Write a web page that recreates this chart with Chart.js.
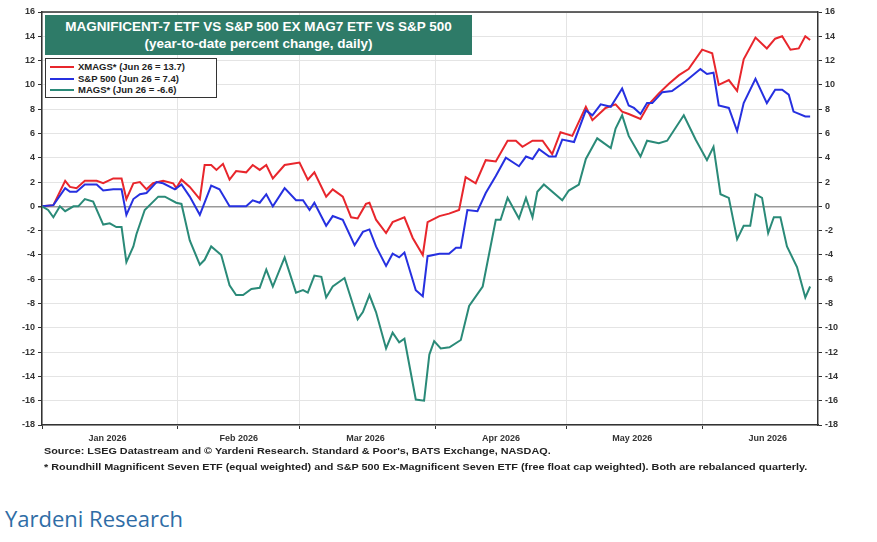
<!DOCTYPE html>
<html>
<head>
<meta charset="utf-8">
<script src="https://cdn.jsdelivr.net/npm/chart.js@4"></script>
<style>
  body { margin: 0; background: #fff; font-family: "Liberation Sans", Arial, sans-serif; }
  #wrap { position: relative; width: 877px; height: 542px; }
  #chart { position: absolute; left: 0; top: 0; }
  #title { position: absolute; left: 45px; top: 15px; width: 427px; height: 40px; background: #2e7b68;
           color: #fff; font-weight: bold; font-size: 13.5px; text-align: center; line-height: 17px; padding-top: 3px; box-sizing: border-box; }
  #legend { position: absolute; left: 45px; top: 58px; width: 172px; height: 40px; border: 1.5px solid #333; background: #fff;
            font-size: 9.5px; font-weight: bold; color: #222; box-sizing: border-box; padding: 2px 0 0 4px; line-height: 11.5px; }
  #legend span.sw { display: inline-block; width: 24px; height: 2px; vertical-align: middle; margin-right: 4px; }
  #notes { position: absolute; left: 44px; top: 443px; font-size: 9.5px; font-weight: bold; color: #222; line-height: 16px;
           transform: scaleX(1.14); transform-origin: left top; white-space: nowrap; }
  #brand { position: absolute; left: 5px; top: 503px; font-size: 22px; color: #2f6da6; font-family: "Open Sans", sans-serif; }
</style>
</head>
<body>
<div id="wrap">
  <canvas id="chart" width="877" height="445"></canvas>
  <div id="title">MAGNIFICENT-7 ETF VS S&amp;P 500 EX MAG7 ETF VS S&amp;P 500<br>(year-to-date percent change, daily)</div>
  <div id="legend">
    <div><span class="sw" style="background:#e8262c"></span>XMAGS* (Jun 26 = 13.7)</div>
    <div><span class="sw" style="background:#2630e0"></span>S&amp;P 500 (Jun 26 = 7.4)</div>
    <div><span class="sw" style="background:#2a8a78"></span>MAGS* (Jun 26 = -6.6)</div>
  </div>
  <div id="notes">Source: LSEG Datastream and © Yardeni Research. Standard &amp; Poor's, BATS Exchange, NASDAQ.<br>* Roundhill Magnificent Seven ETF (equal weighted) and S&amp;P 500 Ex-Magnificent Seven ETF (free float cap weighted). Both are rebalanced quarterly.</div>
  <div id="brand">Yardeni Research</div>
</div>
<script>
// x values are days since Jan 1 2026
const monthStarts = [0, 31, 59, 90, 120, 151];
const monthMids = [15, 45, 74, 105, 135, 166];
const monthLabels = ['Jan 2026', 'Feb 2026', 'Mar 2026', 'Apr 2026', 'May 2026', 'Jun 2026'];
const yTicks = [16, 14, 12, 10, 8, 6, 4, 2, 0, -2, -4, -6, -8, -10, -12, -14, -16, -18];

const xmagsDays = [0, 2.6, 5.3, 6.4, 7.9, 9.8, 12.5, 14.0, 16.3, 18.2, 19.3, 20.9, 22.4, 23.9, 25.4, 27.7, 30.0, 30.7, 31.9, 33.8, 36.1, 37.2, 38.7, 39.9, 41.4, 42.9, 44.4, 46.7, 48.2, 49.8, 51.3, 52.8, 55.5, 58.9, 60.8, 62.3, 65.0, 66.5, 68.8, 70.7, 72.2, 74.1, 74.9, 76.4, 78.7, 80.2, 82.9, 84.8, 87.1,
  88.2, 90.9, 93.1, 95.4, 96.9, 99.2, 101.5, 103.8, 106.5, 108.4, 109.9, 112.2, 114.5, 116.7, 118.6, 121.3, 124.4, 125.9, 128.9, 131.2, 132.7, 134.2, 136.9, 138.8, 141.1, 143.4, 145.7, 147.9, 151.0, 153.3, 154.8, 157.1, 159.0, 160.5, 163.2, 165.8, 167.7, 169.3, 171.2, 173.1, 174.6, 175.7];
const xmagsVals = [0, 0.1, 2.1, 1.6, 1.5, 2.1, 2.1, 1.9, 2.3, 2.3, 0.6, 1.9, 2.0, 1.4, 1.9, 2.1, 1.9, 1.5, 2.2, 1.6, 0.6, 3.4, 3.4, 3.0, 3.5, 2.2, 2.9, 2.8, 3.4, 3.0, 3.4, 2.3, 3.4, 3.6, 2.2, 2.8, 0.8, 1.4, 0.8, -0.9, -1.0, 0.2, 0.3, -1.1, -2.2, -1.3, -0.9, -2.6, -4.0,
  -1.3, -0.8, -0.6, -0.3, 2.4, 1.9, 3.8, 3.7, 5.4, 5.4, 4.9, 5.4, 5.4, 4.3, 6.1, 5.8, 8.2, 7.1, 8.1, 8.4, 7.8, 7.6, 7.2, 8.4, 9.3, 10.1, 10.8, 11.3, 12.9, 12.6, 10.0, 10.4, 9.5, 12.1, 13.9, 13.0, 13.8, 14.0, 12.9, 13.0, 14.0, 13.7];

const spxDays = [0, 2.6, 5.3, 6.4, 7.9, 9.8, 12.5, 14.0, 16.3, 18.2, 19.3, 20.9, 22.4, 23.9, 26.2, 27.7, 30.4, 31.9, 33.8, 36.1, 38.7, 40.6, 42.9, 46.7, 48.2, 49.8, 51.3, 52.8, 55.5, 58.1, 59.7, 61.2, 62.3, 65.0, 66.5, 68.8, 71.5, 73.4, 74.9, 76.4, 78.7, 80.2, 81.7, 82.9, 85.5, 87.1,
  88.2, 90.9, 93.1, 94.7, 95.8, 97.3, 99.6, 101.5, 103.8, 106.1, 109.1, 110.7, 112.2, 113.7, 116.0, 117.5, 119.0, 121.7, 124.4, 125.9, 127.8, 130.1, 132.7, 134.2, 135.4, 136.9, 138.4, 139.6, 141.9, 144.1, 147.2, 150.6, 152.1, 153.6, 154.8, 157.1, 159.0, 160.5, 163.2, 165.8, 167.7, 169.3, 170.8, 171.9, 174.6, 175.7];
const spxVals = [0, 0.1, 1.5, 1.2, 1.2, 1.8, 1.8, 1.3, 1.4, 1.4, -0.7, 0.6, 1.0, 1.1, 2.0, 1.9, 1.4, 1.8, 0.8, -0.7, 1.7, 1.4, 0.0, 0.0, 0.5, 0.3, 1.0, 0.0, 1.5, 0.5, 0.5, -0.3, 0.3, -1.6, -0.8, -1.1, -3.2, -2.1, -1.9, -3.3, -4.9, -3.9, -4.2, -3.8, -6.9, -7.4,
  -4.1, -3.9, -3.9, -3.4, -3.4, -0.3, -0.4, 1.1, 2.5, 4.0, 3.3, 4.1, 3.9, 4.7, 4.1, 4.1, 5.5, 5.3, 7.9, 7.5, 8.4, 8.2, 9.7, 8.3, 8.1, 7.6, 8.5, 8.5, 9.4, 9.5, 10.3, 11.3, 10.9, 11.0, 8.3, 8.1, 6.2, 8.5, 10.5, 8.5, 9.6, 9.6, 9.2, 7.8, 7.4, 7.4];

const magsDays = [0, 1.4, 2.6, 4.1, 5.3, 7.2, 8.3, 9.8, 11.7, 14.0, 15.5, 17.0, 18.2, 19.3, 20.9, 21.6, 23.5, 26.6, 28.1, 30.7, 31.9, 33.8, 36.1, 37.2, 38.7, 41.0, 42.9, 44.4, 46.0, 47.9, 49.8, 51.3, 52.8, 55.5, 58.1, 59.7, 60.8, 62.3, 63.9, 65.0, 66.5, 69.2, 72.2, 73.4, 74.9, 76.4, 78.7, 80.2, 81.7, 82.9, 85.5, 87.4, 88.6, 89.7, 91.2, 93.2,
  95.8, 97.7, 100.8, 103.8, 104.9, 106.5, 109.1, 110.7, 112.2, 113.3, 114.8, 119.0, 120.5, 122.8, 124.4, 127.0, 130.1, 131.2, 132.7, 134.2, 136.9, 138.4, 141.1, 143.0, 146.8, 149.5, 152.1, 153.6, 155.2, 157.1, 159.0, 160.5, 162.0, 163.2, 164.7, 166.1, 167.4, 168.9, 170.4, 172.7, 174.6, 175.7];
const magsVals = [0, -0.3, -0.9, 0, -0.4, 0.0, 0.0, 0.6, 0.4, -1.5, -1.4, -1.7, -1.7, -4.6, -3.3, -2.3, -0.3, 0.8, 0.8, 0.3, 0.2, -2.8, -4.8, -4.4, -3.3, -4.0, -6.5, -7.3, -7.3, -6.8, -6.7, -5.2, -6.6, -4.2, -7.1, -6.9, -7.1, -5.7, -5.8, -7.5, -6.6, -5.9, -9.3, -8.7, -7.3, -8.7, -11.7, -10.4, -11.2, -10.9, -15.9, -16.0, -12.2, -11.1, -11.7, -11.6,
  -11.0, -8.2, -6.6, -1.1, -1.1, 0.7, -1.0, 0.7, -0.9, 1.2, 1.8, 0.5, 1.3, 1.8, 3.9, 5.6, 4.8, 6.4, 7.5, 5.8, 4.1, 5.4, 5.2, 5.4, 7.5, 5.5, 3.8, 4.9, 1.0, 0.7, -2.7, -1.6, -1.6, 1.0, 0.7, -2.2, -0.9, -0.9, -3.3, -5.0, -7.5, -6.6];

const pts = (d, v) => d.map((x, i) => ({ x: x, y: v[i] }));
const tickFont = { family: 'Liberation Sans', size: 9, weight: 'bold' };

new Chart(document.getElementById('chart'), {
  type: 'line',
  data: {
    datasets: [
      { data: pts(magsDays, magsVals), borderColor: '#2a8a78', borderWidth: 2, pointRadius: 0, tension: 0 },
      { data: pts(spxDays, spxVals), borderColor: '#2630e0', borderWidth: 2, pointRadius: 0, tension: 0 },
      { data: pts(xmagsDays, xmagsVals), borderColor: '#e8262c', borderWidth: 2, pointRadius: 0, tension: 0 }
    ]
  },
  options: {
    responsive: false,
    animation: false,
    layout: { padding: { top: 12 } },
    plugins: { legend: { display: false }, tooltip: { enabled: false } },
    scales: {
      x: {
        type: 'linear', min: 0, max: 177.5,
        afterBuildTicks: s => { s.ticks = monthStarts.concat(monthMids).map(v => ({ value: v })); },
        afterFit: s => { s.height = 20; },
        ticks: {
          autoSkip: false, maxRotation: 0, font: tickFont, color: '#333', padding: 4,
          callback: v => { const i = monthMids.indexOf(v); return i >= 0 ? monthLabels[i] : ''; }
        },
        grid: {
          color: c => monthStarts.includes(c.tick && c.tick.value) ? '#e4e4e4' : 'rgba(0,0,0,0)',
          tickColor: c => monthStarts.includes(c.tick && c.tick.value) ? '#333' : 'rgba(0,0,0,0)',
          tickLength: 4
        },
        border: { color: '#333', width: 1.5 }
      },
      y: {
        position: 'left', min: -18, max: 16,
        afterBuildTicks: s => { s.ticks = yTicks.map(v => ({ value: v })); },
        afterFit: s => { s.width = 42; },
        ticks: { font: tickFont, color: '#333', padding: 3 },
        grid: { color: c => c.tick.value === 0 ? '#999' : '#e4e4e4', lineWidth: c => c.tick.value === 0 ? 1.5 : 1, tickLength: 4, tickColor: '#333' },
        border: { color: '#333', width: 1.5 }
      },
      y2: {
        position: 'right', min: -18, max: 16,
        afterBuildTicks: s => { s.ticks = yTicks.map(v => ({ value: v })); },
        afterFit: s => { s.width = 59; },
        ticks: { font: tickFont, color: '#333', padding: 3 },
        grid: { drawOnChartArea: false, tickLength: 4, tickColor: '#333' },
        border: { color: '#333', width: 1.5 }
      }
    }
  },
  plugins: [{
    id: 'topBorder',
    afterDraw: c => {
      const a = c.chartArea, ctx = c.ctx;
      ctx.save(); ctx.strokeStyle = '#333'; ctx.lineWidth = 1.5;
      ctx.beginPath(); ctx.moveTo(a.left, a.top); ctx.lineTo(a.right, a.top); ctx.stroke(); ctx.restore();
    }
  }]
});
</script>
</body>
</html>
